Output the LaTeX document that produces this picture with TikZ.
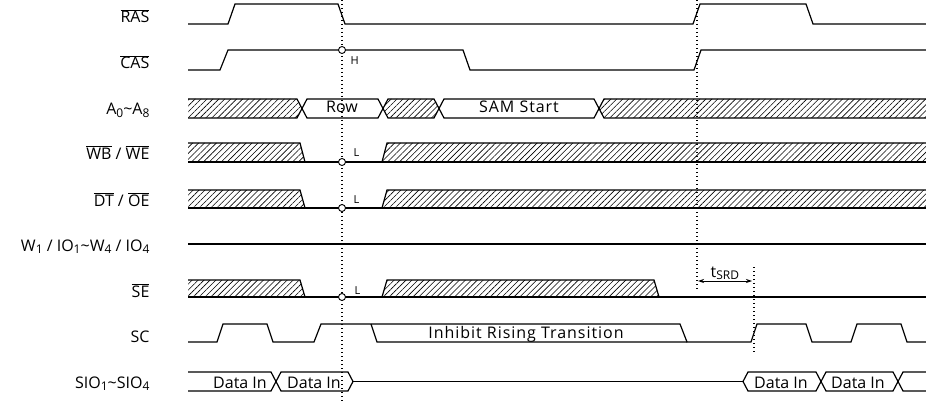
\documentclass[tikz,border=0pt]{standalone}
\usepackage{fontspec}
\setmainfont{Open Sans}
\usetikzlibrary{patterns.meta,arrows.meta}
\newcommand{\lo}[1]{\raisebox{-0.35ex}{\fontsize{12}{12}\selectfont #1}}

\begin{document}
\begin{tikzpicture}[x=1pt, y=-1pt, >={Stealth[length=6pt,width=4pt]}, line width=1.2pt,
    font=\fontsize{16}{19}\selectfont,
    lbl/.style={anchor=base east, inner sep=0pt},
    txt/.style={anchor=base, inner sep=0pt},
    wide/.style={txt, font=\fontsize{16}{19}\selectfont\addfontfeature{LetterSpace=6}},
    lvl/.style={anchor=base west, inner sep=0pt, font=\fontsize{11}{12}\selectfont},
    hatch/.style={pattern={Lines[angle=45,distance=4.2pt,line width=0.6pt]}},
    probe/.style={circle, draw, fill=white, inner sep=0pt, minimum size=7pt, line width=0.9pt},
    vline/.style={line width=1.3pt, dash pattern=on 1.3pt off 2.7pt}]
    \useasboundingbox (0,0) rectangle (926,401);

    \node[lbl] (ras) at (150,23) {\(\overline{\mbox{RAS}}\)};
    \node[lbl] (cas) at (150,69) {\(\overline{\mbox{CAS}}\)};
    \node[lbl] (adr) at (150,115) {A\lo{0}\textasciitilde A\lo{8}};
    \node[lbl] (wb) at (150,159) {\(\overline{\mbox{WB}}\) / \(\overline{\mbox{WE}}\)};
    \node[lbl] (dt) at (150,206) {\(\overline{\mbox{DT}}\) / \(\overline{\mbox{OE}}\)};
    \node[lbl] (wio) at (150,251) {W\lo{1} / IO\lo{1}\textasciitilde W\lo{4} / IO\lo{4}};
    \node[lbl] (se) at (150,297) {\(\overline{\mbox{SE}}\)};
    \node[lbl] (sc) at (150,342) {SC};
    \node[lbl] (sio) at (150,388) {SIO\lo{1}\textasciitilde SIO\lo{4}};

    \draw (188,24) -- (228,24) -- (235,4) -- (338,4) -- (345,24) -- (693,24) -- (700,4)
        -- (806,4) -- (813,24) -- (926,24);
    \draw (188,70) -- (220,70) -- (228,50) -- (463,50) -- (470,70) -- (694,70) -- (701,50) -- (926,50);

    \draw[hatch] (188,99) -- (297,99) -- (302,108.5) -- (297,118) -- (188,118);
    \draw (302,108.5) -- (307,99) -- (378,99) -- (383,108.5) -- (378,118) -- (307,118) -- cycle;
    \draw[hatch] (383,108.5) -- (388,99) -- (434,99) -- (439,108.5) -- (434,118) -- (388,118) -- cycle;
    \draw (439,108.5) -- (444,99) -- (594,99) -- (599,108.5) -- (594,118) -- (444,118) -- cycle;
    \draw[hatch] (926,99) -- (604,99) -- (599,108.5) -- (604,118) -- (926,118);
    \node[txt] (row) at (342,113) {Row};
    \node[wide] (sam) at (519,113) {SAM Start};

    \draw (188,162) -- (926,162);
    \draw[hatch] (188,143) -- (300,143) -- (305,162) -- (188,162);
    \draw[hatch] (926,143) -- (387,143) -- (382,162) -- (926,162);

    \draw (188,208) -- (926,208);
    \draw[hatch] (188,190) -- (300,190) -- (305,208) -- (188,208);
    \draw[hatch] (926,190) -- (387,190) -- (382,208) -- (926,208);

    \draw (188,244) -- (926,244);

    \draw (188,297) -- (926,297);
    \draw[hatch] (188,280) -- (300,280) -- (305,297) -- (188,297);
    \draw[hatch] (382,297) -- (387,280) -- (654,280) -- (659,297) -- cycle;

    \draw (188,342) -- (217,342) -- (223,324) -- (267,324) -- (273,342) -- (314,342) -- (321,324)
        -- (680,324) -- (687,342) -- (751,342) -- (757,324) -- (806,324) -- (812,342)
        -- (851,342) -- (857,324) -- (901,324) -- (907,342) -- (926,342);
    \draw (371,324) -- (377,342) -- (687,342);
    \node[wide] (inh) at (526,338) {Inhibit Rising Transition};

    \draw (188,372) -- (271,372) -- (276,381.5) -- (271,391) -- (188,391);
    \draw (276,381.5) -- (281,372) -- (348,372) -- (353,381.5) -- (348,391) -- (281,391) -- cycle;
    \draw (353,381.5) -- (743,381.5);
    \draw (743,381.5) -- (748,372) -- (816,372) -- (821,381.5) -- (816,391) -- (748,391) -- cycle;
    \draw (821,381.5) -- (826,372) -- (893,372) -- (898,381.5) -- (893,391) -- (826,391) -- cycle;
    \draw (926,372) -- (903,372) -- (898,381.5) -- (903,391) -- (926,391);
    \node[txt] (d1) at (240,388) {Data In};
    \node[txt] (d2) at (314,388) {Data In};
    \node[txt] (d3) at (781,388) {Data In};
    \node[txt] (d4) at (858,388) {Data In};

    \coordinate (t1) at (342,0);
    \coordinate (b1) at (342,401);
    \coordinate (t2) at (697,0);
    \coordinate (b2) at (697,290);
    \coordinate (t3) at (754,267);
    \coordinate (b3) at (754,352);
    \draw[vline] (t1) -- (b1);
    \draw[vline] (t2) -- (b2);
    \draw[vline] (t3) -- (b3);

    \node[probe] (p1) at (342,50) {};
    \node[probe] (p2) at (342,162) {};
    \node[probe] (p3) at (342,208) {};
    \node[probe] (p4) at (342,297) {};
    \node[lvl] (h1) at (350,65) {H};
    \node[lvl] (l1) at (353,157) {L};
    \node[lvl] (l2) at (353,203) {L};
    \node[lvl] (l3) at (354,294) {L};

    \coordinate (a1) at (698,281);
    \coordinate (a2) at (752,281);
    \draw[<->, line width=0.8pt] (a1) -- (a2);
    \node[anchor=base west, inner sep=0pt] (tsrd) at (710,277) {t\lo{SRD}};
\end{tikzpicture}
\end{document}
